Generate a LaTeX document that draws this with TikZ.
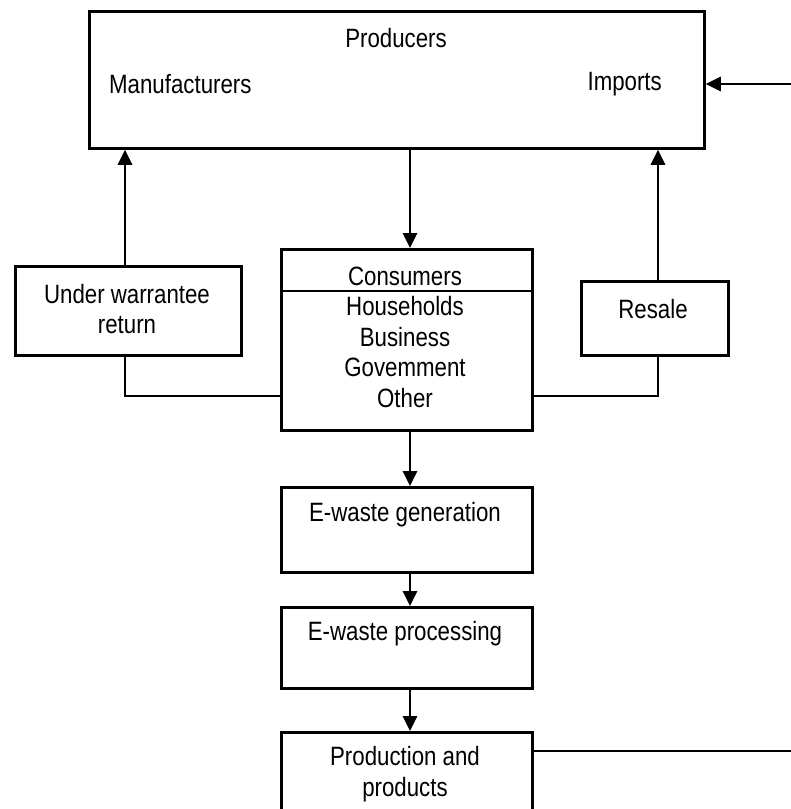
\documentclass[tikz,border=0pt]{standalone}
\usepackage{fontspec}
\setmainfont[FakeStretch=0.84]{Liberation Sans}
\usetikzlibrary{arrows.meta}
\begin{document}
\begin{tikzpicture}[x=1pt,y=-1pt,
  box/.style={draw,line width=2.8pt,inner sep=0pt,anchor=north west},
  lbl/.style={font=\fontsize{26.5}{30.5}\selectfont,inner sep=0pt,align=center},
  arr/.style={line width=2.8pt,-{Triangle[length=15pt,width=14pt]}},
  ln/.style={line width=2.8pt}]
\useasboundingbox (0,0) rectangle (791,809);
\clip (0,0) rectangle (791,809);
% boxes
\node[box,minimum width=615pt,minimum height=137pt] (prod) at (88,10) {};
\node[box,minimum width=226pt,minimum height=89pt] (warr) at (14,265) {};
\node[box,minimum width=147pt,minimum height=74pt] (resale) at (580,280) {};
\node[box,minimum width=251pt,minimum height=181pt] (cons) at (280,248) {};
\node[box,minimum width=251pt,minimum height=85pt] (gen) at (280,486) {};
\node[box,minimum width=251pt,minimum height=81pt] (proc) at (280,606) {};
\node[box,minimum width=251pt,minimum height=120pt] (pp) at (280,731) {};
% texts
\node[lbl] (tprod) at (396,38) {Producers};
\node[lbl,anchor=west] (tman) at (109,84) {Manufacturers};
\node[lbl,anchor=east] (timp) at (662,84) {Imports};
\node[lbl] (twarr) at (127,309) {Under warrantee\\return};
\node[lbl] (tres) at (653,309) {Resale};
\node[lbl] (tcons) at (405,276) {Consumers};
\node[lbl] (tlist) at (405,352) {Households\\Business\\Govemment\\Other};
\node[lbl] (tgen) at (405,515) {E-waste generation};
\node[lbl] (tproc) at (405,634) {E-waste processing};
\node[lbl] (tpp) at (405,774) {Production and\\products};
% divider in consumers box
\coordinate (div) at (0,291);
\draw[ln] (cons.west |- div) -- (cons.east |- div);
% helper coordinates
\coordinate (axis) at (410,0);
\coordinate (rx) at (658,0);
\coordinate (inR) at (791,84);
\coordinate (low) at (0,396);
\coordinate (outR) at (791,751);
% connectors
\draw[arr] (inR) -- (inR -| prod.east);
\draw[arr] (prod.south -| axis) -- (cons.north -| axis);
\draw[arr] (warr.north -| 125,0) -- (prod.south -| 125,0);
\draw[arr] (resale.north -| rx) -- (prod.south -| rx);
\draw[ln] (warr.south -| 125,0) |- (cons.west |- low);
\draw[ln] (resale.south -| rx) |- (cons.east |- low);
\draw[arr] (cons.south -| axis) -- (gen.north -| axis);
\draw[arr] (gen.south -| axis) -- (proc.north -| axis);
\draw[arr] (proc.south -| axis) -- (pp.north -| axis);
\draw[ln] (pp.east |- outR) -- (outR);
\end{tikzpicture}
\end{document}
